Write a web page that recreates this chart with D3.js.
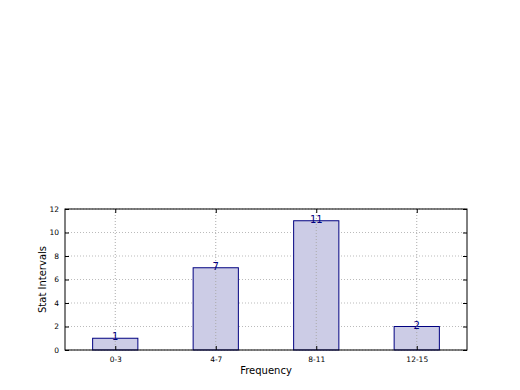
<!DOCTYPE html>
<html>
<head>
<meta charset="utf-8">
<script src="https://cdn.jsdelivr.net/npm/d3@7"></script>
<style>
  body { margin: 0; background: #fff; }
  svg { display: block; font-family: "DejaVu Sans", sans-serif; }
</style>
</head>
<body>
<svg id="chart" width="520" height="390"></svg>
<script>
var categories = ["0-3", "4-7", "8-11", "12-15"];
var counts = [1, 7, 11, 2];
var yTicks = [0, 2, 4, 6, 8, 10, 12];

var svg = d3.select("#chart");
var margin = {left: 65, right: 53, top: 209, bottom: 40};
var width = 520 - margin.left - margin.right,
    height = 390 - margin.top - margin.bottom;

var x = d3.scaleLinear().domain([-0.5, 3.5]).range([0, width]);
var y = d3.scaleLinear().domain([0, 12]).range([height, 0]);
var barW = 0.45;

var g = svg.append("g")
    .attr("transform", "translate(" + margin.left + "," + margin.top + ")");

// horizontal grid sits behind the bars
g.selectAll(".ygrid").data(yTicks).enter().append("line")
    .attr("x1", 0).attr("x2", width)
    .attr("y1", function(d) { return y(d); }).attr("y2", function(d) { return y(d); })
    .attr("stroke", "#bbbbbb").attr("stroke-width", 1).attr("stroke-dasharray", "1,2");

// bars
g.selectAll(".bar").data(counts).enter().append("rect")
    .attr("x", function(d, i) { return x(i - barW / 2); })
    .attr("width", x(barW) - x(0))
    .attr("y", function(d) { return y(d); })
    .attr("height", function(d) { return height - y(d); })
    .attr("fill", "#cccce6").attr("stroke", "#000080").attr("stroke-width", 1);

// vertical grid shows through the bars
g.selectAll(".xgrid").data(categories).enter().append("line")
    .attr("x1", function(d, i) { return x(i); }).attr("x2", function(d, i) { return x(i); })
    .attr("y1", 0).attr("y2", height)
    .attr("stroke", "#aaaaaa").attr("stroke-width", 1).attr("stroke-dasharray", "1,2");

// value labels
g.selectAll(".val").data(counts).enter().append("text")
    .attr("x", function(d, i) { return x(i); })
    .attr("y", function(d) { return y(d) + 2; })
    .attr("text-anchor", "middle")
    .attr("font-size", "10px").attr("fill", "#000080")
    .text(function(d) { return d; });

// axes (ticks inward, like matplotlib classic)
var yAxis = d3.axisLeft(y).tickValues(yTicks).tickSize(-4).tickPadding(6);
var yAxisR = d3.axisRight(y).tickValues(yTicks).tickSize(-4).tickFormat("");
var xAxis = d3.axisBottom(x).tickValues(d3.range(categories.length)).tickSize(-4).tickPadding(7)
    .tickFormat(function(d) { return categories[d]; });
var xAxisT = d3.axisTop(x).tickValues(d3.range(categories.length)).tickSize(-4).tickFormat("");

[g.append("g").call(yAxis),
 g.append("g").attr("transform", "translate(" + width + ",0)").call(yAxisR),
 g.append("g").attr("transform", "translate(0," + height + ")").call(xAxis),
 g.append("g").call(xAxisT)].forEach(function(a) {
    a.select(".domain").remove();
    a.selectAll("line").attr("stroke", "#000");
    a.selectAll("text").attr("font-size", "7.5px").attr("fill", "#000")
        .attr("font-family", "DejaVu Sans, sans-serif");
});

g.append("rect").attr("width", width).attr("height", height)
    .attr("fill", "none").attr("stroke", "#000").attr("stroke-width", 1);

svg.append("text")
    .attr("x", margin.left + width / 2).attr("y", 374)
    .attr("text-anchor", "middle").attr("font-size", "10px")
    .text("Frequency");
svg.append("text")
    .attr("transform", "translate(46," + (margin.top + height / 2) + ") rotate(-90)")
    .attr("text-anchor", "middle").attr("font-size", "10px")
    .text("Stat Intervals");
</script>
</body>
</html>
